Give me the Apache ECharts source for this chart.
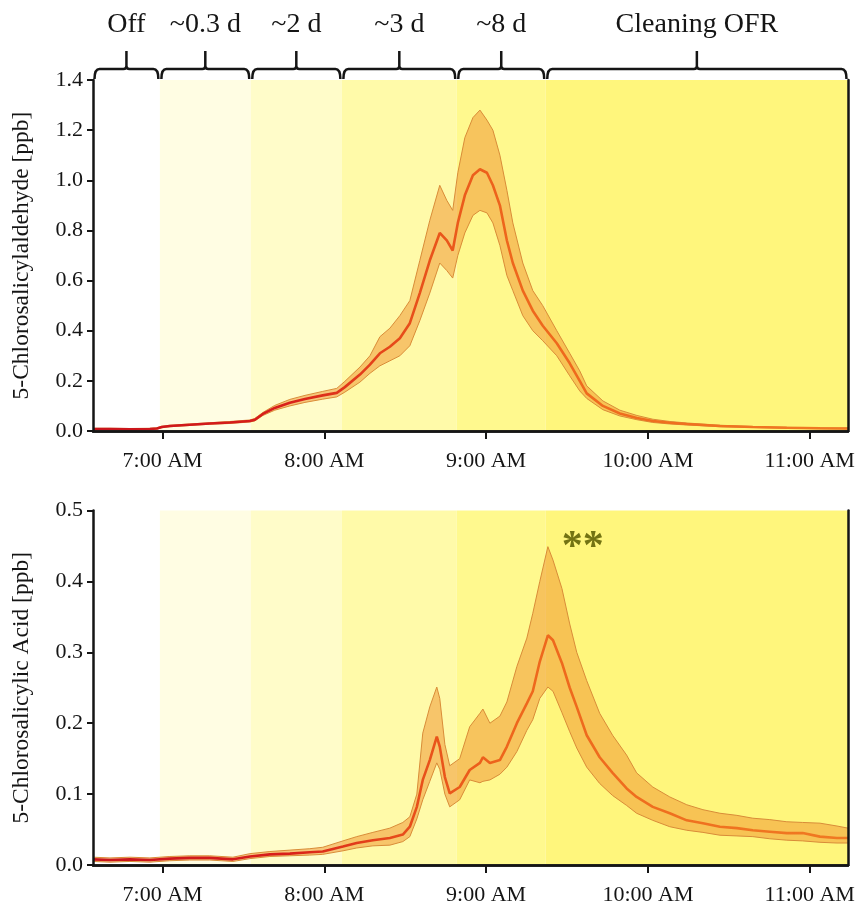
<!DOCTYPE html>
<html>
<head>
<meta charset="utf-8">
<script src="https://cdn.jsdelivr.net/npm/echarts@6.0.0/dist/echarts.min.js"></script>
<style>
html, body { margin: 0; padding: 0; background: #fff; }
#chart { width: 865px; height: 908px; }
</style>
</head>
<body>
<div id="chart"></div>
<script>
// times are minutes after midnight
var phaseNames = ['Off', '~0.3 d', '~2 d', '~3 d', '~8 d', 'Cleaning OFR'];
var phaseStart = [394.2, 419, 452.7, 486.5, 529.1, 562.1];
var phaseEnd = [419, 452.7, 486.5, 529.1, 562.1, 674.2];
var phaseColors = ['#ffffff', '#fffde3', '#fffcc9', '#fffaa9', '#fff98e', '#fff67c'];

var timeTicks = [420, 480, 540, 600, 660];

// 5-Chlorosalicylaldehyde [ppb]
var aldTime = [394.2, 400.5, 407.9, 415.3, 417.9, 419.7, 422.7, 430.1, 437.5, 445.0,
  452.4, 454.2, 457.2, 461.6, 467.2, 472.8, 479.4, 484.6, 487.6, 493.2,
  496.9, 500.6, 504.3, 508.0, 511.7, 515.4, 519.1, 522.8, 525.4, 527.6,
  529.5, 532.1, 535.1, 537.7, 540.3, 542.5, 545.1, 547.7, 549.9, 553.6,
  557.3, 561.0, 566.2, 571.0, 574.7, 577.3, 583.3, 589.6, 595.9, 601.8,
  608.1, 614.4, 626.7, 638.9, 651.5, 663.8, 674.2];
var aldMean = [0.008, 0.008, 0.007, 0.008, 0.010, 0.016, 0.020, 0.025, 0.030, 0.034,
  0.040, 0.045, 0.068, 0.092, 0.113, 0.128, 0.142, 0.152, 0.175, 0.225,
  0.265, 0.310, 0.336, 0.370, 0.430, 0.550, 0.680, 0.790, 0.760, 0.720,
  0.830, 0.940, 1.020, 1.044, 1.030, 0.980, 0.900, 0.760, 0.670, 0.560,
  0.480, 0.420, 0.350, 0.270, 0.200, 0.150, 0.100, 0.070, 0.052, 0.040,
  0.033, 0.028, 0.020, 0.016, 0.013, 0.011, 0.010];
var aldUpper = [0.011, 0.011, 0.010, 0.011, 0.013, 0.019, 0.023, 0.028, 0.033, 0.038,
  0.044, 0.050, 0.074, 0.102, 0.126, 0.142, 0.158, 0.170, 0.198, 0.255,
  0.300, 0.376, 0.410, 0.460, 0.520, 0.680, 0.840, 0.980, 0.920, 0.880,
  1.030, 1.170, 1.250, 1.280, 1.240, 1.200, 1.100, 0.960, 0.830, 0.670,
  0.560, 0.500, 0.400, 0.310, 0.240, 0.180, 0.120, 0.083, 0.062, 0.047,
  0.038, 0.032, 0.023, 0.018, 0.015, 0.013, 0.012];
var aldLower = [0.005, 0.005, 0.004, 0.005, 0.007, 0.013, 0.017, 0.022, 0.027, 0.030,
  0.036, 0.040, 0.062, 0.083, 0.100, 0.114, 0.127, 0.136, 0.155, 0.195,
  0.230, 0.260, 0.280, 0.300, 0.340, 0.440, 0.550, 0.670, 0.640, 0.610,
  0.700, 0.790, 0.860, 0.880, 0.870, 0.830, 0.740, 0.620, 0.560, 0.460,
  0.400, 0.360, 0.300, 0.220, 0.160, 0.130, 0.085, 0.060, 0.045, 0.034,
  0.028, 0.024, 0.017, 0.014, 0.011, 0.009, 0.008];

// 5-Chlorosalicylic Acid [ppb]
var acidTime = [394.2, 400.5, 407.9, 415.3, 422.7, 430.1, 437.5, 446.1, 452.4, 459.8,
  467.2, 474.6, 479.4, 486.9, 492.0, 498.0, 504.3, 509.1, 511.7, 514.3,
  516.5, 519.1, 521.7, 522.8, 524.7, 526.5, 530.2, 533.9, 537.7, 538.8,
  541.4, 545.1, 547.7, 551.4, 555.1, 557.3, 559.9, 562.9, 564.8, 568.1,
  571.0, 573.6, 577.3, 582.1, 586.9, 592.1, 595.8, 601.8, 608.1, 614.4,
  620.4, 626.7, 633.0, 638.9, 645.2, 651.5, 657.4, 663.8, 670.1, 674.2];
var acidMean = [0.008, 0.007, 0.008, 0.007, 0.009, 0.010, 0.010, 0.008, 0.012, 0.015,
  0.016, 0.018, 0.019, 0.026, 0.031, 0.035, 0.038, 0.043, 0.054, 0.082,
  0.120, 0.148, 0.181, 0.167, 0.124, 0.101, 0.110, 0.134, 0.144, 0.152,
  0.144, 0.148, 0.167, 0.200, 0.228, 0.245, 0.287, 0.324, 0.317, 0.285,
  0.250, 0.223, 0.183, 0.152, 0.130, 0.108, 0.096, 0.082, 0.073, 0.063,
  0.059, 0.054, 0.052, 0.049, 0.047, 0.045, 0.045, 0.040, 0.038, 0.038];
var acidUpper = [0.011, 0.010, 0.011, 0.010, 0.012, 0.013, 0.013, 0.011, 0.016, 0.019,
  0.021, 0.023, 0.025, 0.034, 0.040, 0.046, 0.052, 0.060, 0.068, 0.100,
  0.186, 0.223, 0.251, 0.235, 0.170, 0.140, 0.150, 0.195, 0.214, 0.220,
  0.200, 0.210, 0.230, 0.280, 0.320, 0.355, 0.400, 0.449, 0.430, 0.390,
  0.340, 0.300, 0.260, 0.214, 0.183, 0.155, 0.130, 0.110, 0.096, 0.085,
  0.078, 0.073, 0.070, 0.066, 0.064, 0.061, 0.060, 0.059, 0.055, 0.052];
var acidLower = [0.005, 0.004, 0.005, 0.004, 0.006, 0.007, 0.007, 0.005, 0.009, 0.012,
  0.013, 0.014, 0.015, 0.020, 0.024, 0.027, 0.028, 0.033, 0.040, 0.065,
  0.092, 0.118, 0.144, 0.135, 0.100, 0.082, 0.092, 0.120, 0.116, 0.118,
  0.120, 0.128, 0.138, 0.160, 0.190, 0.205, 0.235, 0.251, 0.245, 0.215,
  0.188, 0.165, 0.138, 0.115, 0.098, 0.084, 0.073, 0.063, 0.054, 0.049,
  0.046, 0.042, 0.041, 0.040, 0.037, 0.035, 0.034, 0.032, 0.031, 0.031];

var serif = '"Liberation Serif", "Times New Roman", serif';
var ink = '#151515';
var edgeColor = '#d98c38';
var bandFill = 'rgba(240,148,48,0.52)';

var chart = echarts.init(document.getElementById('chart'));

function timeLabel(v) {
  var h = Math.floor(v / 60);
  var m = Math.round(v - h * 60);
  return h + ':' + (m < 10 ? '0' : '') + m + ' AM';
}

function xAxes(gi) {
  return [{
    type: 'value', gridIndex: gi, min: 394.2, max: 674.2, z: 5,
    axisLine: { lineStyle: { color: ink, width: 2.5 } },
    axisTick: { customValues: timeTicks, length: 8, lineStyle: { color: ink, width: 2 } },
    axisLabel: { customValues: timeTicks, formatter: timeLabel, margin: 19,
      color: ink, fontFamily: serif, fontSize: 22 },
    splitLine: { show: false }
  }, {
    type: 'value', gridIndex: gi, position: 'top', min: 394.2, max: 674.2, z: 5,
    axisLine: { lineStyle: { color: ink, width: 2.5 } },
    axisTick: { show: false }, axisLabel: { show: false }, splitLine: { show: false }
  }];
}

function yAxes(gi, max, step, name) {
  return [{
    type: 'value', gridIndex: gi, min: 0, max: max, interval: step, z: 5,
    name: name, nameLocation: 'middle', nameGap: 59, nameRotate: 90,
    nameTextStyle: { color: ink, fontFamily: serif, fontSize: 23.5 },
    axisLine: { show: true, lineStyle: { color: ink, width: 2.5 } },
    axisTick: { show: true, length: 6, lineStyle: { color: ink, width: 2 } },
    axisLabel: { formatter: function (v) { return v.toFixed(1); }, margin: 10,
      color: ink, fontFamily: serif, fontSize: 22 },
    splitLine: { show: false }
  }, {
    type: 'value', gridIndex: gi, position: 'right', min: 0, max: max, interval: step, z: 5,
    axisLine: { show: true, lineStyle: { color: ink, width: 2.5 } },
    axisTick: { show: false }, axisLabel: { show: false }, splitLine: { show: false }
  }];
}

function phaseBackground(gi) {
  return {
    type: 'custom', xAxisIndex: gi * 2, yAxisIndex: gi * 2, z: 1, silent: true,
    encode: { x: [0, 1], y: 2 },
    data: phaseStart.map(function (s, i) { return [s, phaseEnd[i], i]; }),
    renderItem: function (params, api) {
      var cs = params.coordSys;
      var x0 = api.coord([api.value(0), 0])[0];
      var x1 = api.coord([api.value(1), 0])[0];
      return { type: 'rect', shape: { x: x0, y: cs.y, width: x1 - x0, height: cs.height },
        style: { fill: phaseColors[api.value(2)] } };
    }
  };
}

function meanGradient() {
  return new echarts.graphic.LinearGradient(0, 0, 1, 0, [
    { offset: 0, color: '#c8141c' },
    { offset: 0.25, color: '#d81e1a' },
    { offset: 0.4, color: '#e64a1a' },
    { offset: 0.55, color: '#ee661c' },
    { offset: 1, color: '#f07a22' }
  ]);
}

// shaded uncertainty band between lower and upper, drawn as one polygon
function bandArea(gi, time, lower, upper) {
  return {
    type: 'custom', xAxisIndex: gi * 2, yAxisIndex: gi * 2, z: 2, silent: true,
    encode: { x: 0, y: [1, 2] },
    data: time.map(function (t, i) { return [t, lower[i], upper[i]]; }),
    renderItem: function (params, api) {
      if (params.dataIndex !== 0) return;
      var pts = [];
      for (var i = 0; i < time.length; i++) pts.push(api.coord([time[i], upper[i]]));
      for (var j = time.length - 1; j >= 0; j--) pts.push(api.coord([time[j], lower[j]]));
      return { type: 'polygon', shape: { points: pts }, style: { fill: bandFill } };
    }
  };
}

function dataSeries(gi, time, mean, lower, upper) {
  function pairs(vals) { return time.map(function (t, i) { return [t, vals[i]]; }); }
  var axes = { xAxisIndex: gi * 2, yAxisIndex: gi * 2 };
  return [
    bandArea(gi, time, lower, upper),
    Object.assign({ type: 'line', data: pairs(lower), symbol: 'none', z: 3,
      lineStyle: { color: edgeColor, width: 1 } }, axes),
    Object.assign({ type: 'line', data: pairs(upper), symbol: 'none', z: 3,
      lineStyle: { color: edgeColor, width: 1 } }, axes),
    Object.assign({ type: 'line', data: pairs(mean), symbol: 'none', z: 4,
      lineStyle: { color: meanGradient(), width: 2.6 } }, axes)
  ];
}

var brackets = {
  type: 'custom', xAxisIndex: 0, yAxisIndex: 0, z: 6, silent: true,
  encode: { x: [0, 1], y: 2 },
  data: phaseStart.map(function (s, i) { return [s, phaseEnd[i], i]; }),
  renderItem: function (params, api) {
    var top = params.coordSys.y;
    var x0 = api.coord([api.value(0), 0])[0] + 1.5;
    var x1 = api.coord([api.value(1), 0])[0] - 1.5;
    var xm = (x0 + x1) / 2;
    var yEnd = top - 1, yH = top - 11, yStem = top - 29, r = 5;
    var d = 'M' + x0 + ',' + yEnd + ' Q' + x0 + ',' + yH + ' ' + (x0 + r) + ',' + yH +
      ' L' + (xm - 3) + ',' + yH + ' Q' + xm + ',' + yH + ' ' + xm + ',' + (yH - 3) +
      ' L' + xm + ',' + yStem +
      ' M' + xm + ',' + (yH - 3) + ' Q' + xm + ',' + yH + ' ' + (xm + 3) + ',' + yH +
      ' L' + (x1 - r) + ',' + yH + ' Q' + x1 + ',' + yH + ' ' + x1 + ',' + yEnd;
    return { type: 'group', children: [
      { type: 'path', shape: { pathData: d }, style: { stroke: ink, lineWidth: 2.5, fill: null } },
      { type: 'text', style: { text: phaseNames[api.value(2)], x: xm, y: 25,
        align: 'center', verticalAlign: 'middle', fill: ink, font: '28px ' + serif } }
    ] };
  }
};

var acidSeries = dataSeries(1, acidTime, acidMean, acidLower, acidUpper);
acidSeries[3].markPoint = {
  symbol: 'circle', symbolSize: 0, silent: true,
  data: [{ coord: [575.8, 0.447] }],
  label: { show: true, position: 'inside', formatter: '**', color: '#737312',
    fontFamily: serif, fontWeight: 'bold', fontSize: 42 }
};

var option = {
  animation: false,
  backgroundColor: '#ffffff',
  grid: [
    { left: 93, top: 80, width: 755, height: 351 },
    { left: 93, top: 510.5, width: 755, height: 354.5 }
  ],
  xAxis: xAxes(0).concat(xAxes(1)),
  yAxis: yAxes(0, 1.4, 0.2, '5-Chlorosalicylaldehyde [ppb]')
    .concat(yAxes(1, 0.5, 0.1, '5-Chlorosalicylic Acid [ppb]')),
  series: [phaseBackground(0), phaseBackground(1), brackets]
    .concat(dataSeries(0, aldTime, aldMean, aldLower, aldUpper))
    .concat(acidSeries)
};

chart.setOption(option);
window.addEventListener('resize', chart.resize);
</script>
</body>
</html>
